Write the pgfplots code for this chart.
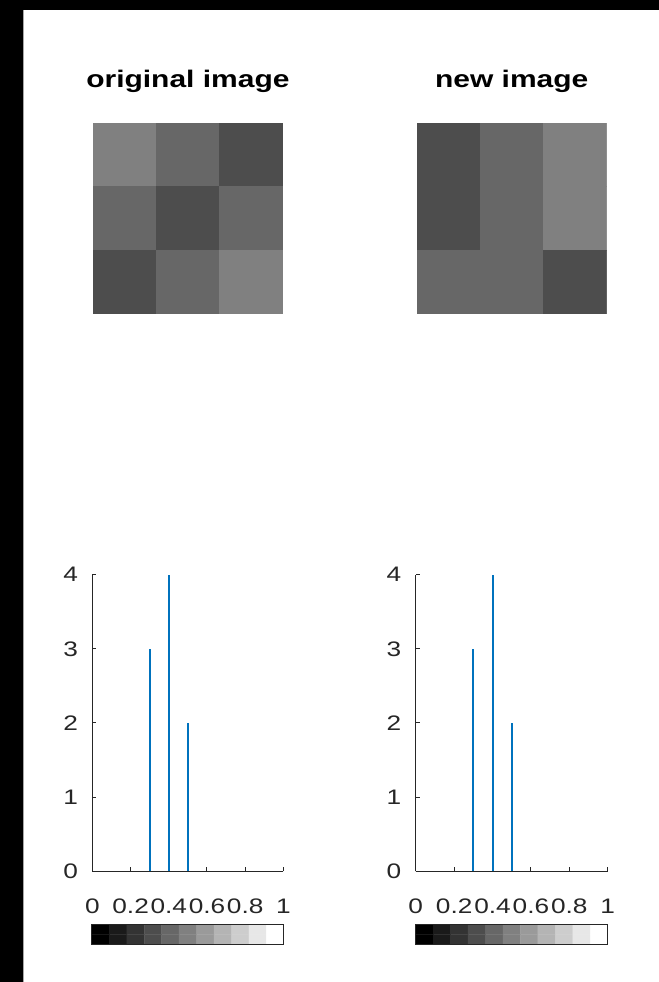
\documentclass[border=0pt]{standalone}
\usepackage{fontspec}
\setmainfont{Liberation Sans}[FakeStretch=1.25]
\usepackage{pgfplots}
\pgfplotsset{compat=1.18}
\definecolor{mblue}{RGB}{0,114,189}
\definecolor{axgray}{RGB}{38,38,38}
\pgfplotsset{
  imgax/.style={scale only axis, xmin=0.5, xmax=3.5, ymin=0.5, ymax=3.5, y dir=reverse,
    axis line style={draw=none}, ticks=none, colormap/blackwhite, point meta min=0, point meta max=1,
    title style={anchor=base, at={(axis description cs:0.5,1)}, yshift=29pt, font=\bfseries\fontsize{24}{28}\selectfont, text=black}},
  histax/.style={scale only axis, xmin=0, xmax=1, ymin=0, ymax=4, axis lines*=left,
    axis line style={axgray, line width=1pt}, tick style={axgray, line width=1pt}, tick align=inside, major tick length=4pt,
    xtick={0,0.2,0.4,0.6,0.8,1}, xticklabels={0,0.2,0.4,0.6,0.8,1}, ytick={0,1,2,3,4},
    /pgf/number format/assume math mode=true,
    ticklabel style={font=\fontsize{21}{25}\selectfont, text=axgray},
    xticklabel style={anchor=north, yshift=-24pt},
    yticklabel style={anchor=east, xshift=-11pt},
    clip=false},
  cbax/.style={scale only axis, xmin=-0.05, xmax=1.05, ymin=-0.5, ymax=1.5, ticks=none, axis on top,
    axis line style={axgray, line width=1pt}, colormap/blackwhite, point meta min=0, point meta max=1}
}
\begin{document}
\begin{tikzpicture}
\fill[black] (0pt,0pt) rectangle (659pt,982pt);
\fill[white] (23pt,0pt) rectangle (659pt,972pt);
\draw[gray!70, line width=1pt] (23.5pt,0pt) -- (23.5pt,972pt);
\useasboundingbox (0pt,0pt) rectangle (659pt,982pt);

% original image
\begin{axis}[imgax, at={(93pt,668pt)}, anchor=south west, width=190pt, height=191pt, title={original image}]
\addplot[matrix plot*, mesh/cols=3, point meta=explicit] table[meta=c] {
x y c
1 1 0.5
2 1 0.4
3 1 0.3
1 2 0.4
2 2 0.3
3 2 0.4
1 3 0.3
2 3 0.4
3 3 0.5
};
\end{axis}

% new image
\begin{axis}[imgax, at={(417pt,668pt)}, anchor=south west, width=190pt, height=191pt, title={new image}]
\addplot[matrix plot*, mesh/cols=3, point meta=explicit] table[meta=c] {
x y c
1 1 0.3
2 1 0.4
3 1 0.5
1 2 0.3
2 2 0.4
3 2 0.5
1 3 0.4
2 3 0.4
3 3 0.3
};
\end{axis}

% histograms
\begin{axis}[histax, at={(92.5pt,110.3pt)}, anchor=south west, width=191pt, height=296.7pt]
\addplot[ycomb, no marks, color=mblue, line width=2pt] coordinates {(0.3,3) (0.4,4) (0.5,2)};
\end{axis}
\begin{axis}[histax, at={(416pt,110.3pt)}, anchor=south west, width=192pt, height=296.7pt]
\addplot[ycomb, no marks, color=mblue, line width=2pt] coordinates {(0.3,3) (0.4,4) (0.5,2)};
\end{axis}

% colorbars
\begin{axis}[cbax, at={(92pt,37pt)}, anchor=south west, width=192pt, height=20pt]
\addplot[matrix plot*, mesh/cols=11, point meta=explicit] table[meta=c] {
x y c
0 0 0
0.1 0 0.1
0.2 0 0.2
0.3 0 0.3
0.4 0 0.4
0.5 0 0.5
0.6 0 0.6
0.7 0 0.7
0.8 0 0.8
0.9 0 0.9
1 0 1
0 1 0
0.1 1 0.1
0.2 1 0.2
0.3 1 0.3
0.4 1 0.4
0.5 1 0.5
0.6 1 0.6
0.7 1 0.7
0.8 1 0.8
0.9 1 0.9
1 1 1
};
\end{axis}
\begin{axis}[cbax, at={(416pt,37pt)}, anchor=south west, width=192pt, height=20pt]
\addplot[matrix plot*, mesh/cols=11, point meta=explicit] table[meta=c] {
x y c
0 0 0
0.1 0 0.1
0.2 0 0.2
0.3 0 0.3
0.4 0 0.4
0.5 0 0.5
0.6 0 0.6
0.7 0 0.7
0.8 0 0.8
0.9 0 0.9
1 0 1
0 1 0
0.1 1 0.1
0.2 1 0.2
0.3 1 0.3
0.4 1 0.4
0.5 1 0.5
0.6 1 0.6
0.7 1 0.7
0.8 1 0.8
0.9 1 0.9
1 1 1
};
\end{axis}
\end{tikzpicture}
\end{document}
